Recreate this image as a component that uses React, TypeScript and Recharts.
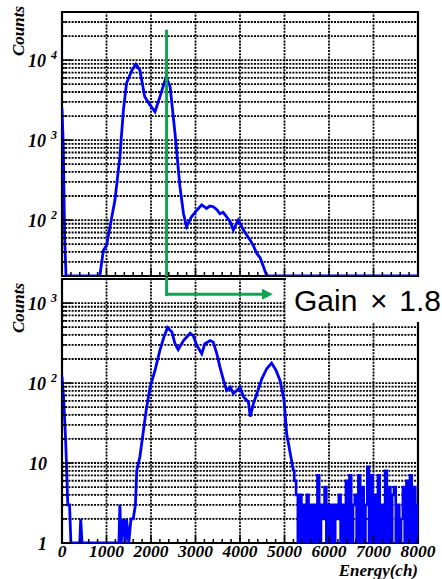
import React from 'react'
import {
  LineChart,
  Line,
  XAxis,
  YAxis,
  CartesianGrid,
  ReferenceLine,
  ReferenceArea,
} from 'recharts'

// upper panel: spectrum before the gain change
const topChannels = [
  0, 30, 60, 90, 820, 850, 930, 1000, 1080, 1190, 1300, 1380, 1450, 1570, 1660, 1750, 1860,
  1980, 2090, 2200, 2340, 2430, 2540, 2650, 2730, 2800, 2910, 3030, 3140, 3250, 3320, 3400,
  3480, 3550, 3620, 3700, 3780, 3850, 3960, 4080, 4150, 4230, 4300, 4380, 4450, 4530, 4600, 8000,
]
const topCounts = [
  2500, 800, 60, 0, 0, 20, 42, 48, 83, 178, 617, 2370, 5130, 7500, 8900, 7500, 3480,
  2740, 2260, 3480, 6180, 4640, 1210, 262, 121, 83, 110, 133, 155, 140, 150, 147,
  135, 120, 125, 110, 95, 75, 100, 75, 65, 56, 48, 38, 34, 26, 0, 0,
]

// lower panel: spectrum with gain x1.8
const bottomChannels = [
  0, 40, 80, 100, 130, 170, 200, 400, 420, 450, 1280, 1300, 1330, 1380, 1420, 1450, 1500,
  1550, 1600, 1650, 1680, 1750, 1810, 1890, 1980, 2090, 2200, 2290, 2370, 2470, 2540, 2610,
  2730, 2880, 2950, 3030, 3140, 3210, 3330, 3400, 3480, 3550, 3630, 3700, 3780, 3850, 3930,
  4000, 4080, 4190, 4230, 4300, 4380, 4490, 4600, 4710, 4810, 4900, 4990, 5050, 5120, 5200,
]
const bottomCounts = [
  120, 60, 20, 10, 3, 3, 0, 0, 2, 0, 0, 3, 0, 2, 0, 2, 1,
  2, 2, 3, 8, 12, 21, 45, 89, 144, 256, 376, 493, 434, 310, 262,
  340, 420, 390, 295, 232, 310, 340, 325, 232, 158, 108, 81, 89, 74, 81,
  89, 67, 58, 38, 55, 74, 113, 151, 178, 144, 108, 61, 23, 14, 8,
]

// noisy tail of the lower spectrum, one value per 40 ch bin from 5240 ch
const tailStart = 5240
const tailBin = 40
const tailCounts = [
  6, 4, 0, 4, 0, 3, 0, 4, 0, 3,
  0, 3, 0, 7, 0, 3, 2, 5, 0, 3,
  0, 3, 0, 3, 2, 4, 0, 3, 0, 6,
  0, 7, 0, 3, 4, 0, 7, 0, 5, 0,
  3, 9, 0, 7, 0, 4, 0, 7, 0, 3,
  0, 8, 0, 5, 0, 4, 5, 0, 3, 0,
  2, 5, 0, 6, 0, 7, 0, 5, 0, 3,
]

const xLabels = [0, 1000, 2000, 3000, 4000, 5000, 6000, 7000, 8000]
const xGrid = [1000, 2000, 3000, 4000, 5000, 6000, 7000]
const topDecades = [100, 1000, 10000]
const bottomDecades = [1, 10, 100, 1000]
const topRange: [number, number] = [20, 40000]
const bottomRange: [number, number] = [1, 2000]

// green marker: gain change position and arrow
const gainChannel = 2350
const lineTop = 24000
const arrowLevel = 1285
const arrowEnd = 4740
const gainLabel = 'Gain'
const gainTimes = '×'
const gainFactor = '1.8'

const SERIF = '"Liberation Serif", "Times New Roman", serif'
const SANS = '"Liberation Sans", Arial, sans-serif'
const BLUE = '#0000ff'
const GREEN = '#10a450'
const GRID_DASH = '2 1.2'
const GRID_W = 1.8

function logTicks([lo, hi]: [number, number]) {
  const out: number[] = []
  for (let d = 1; d <= hi; d *= 10) {
    for (let m = 1; m <= 9; m++) {
      const v = m * d
      if (v >= lo && v <= hi) out.push(v)
    }
  }
  return out
}

const xTicks = Array.from({ length: 41 }, (_, i) => i * 200)

const topData = topChannels.map((ch, i) => ({ ch, counts: Math.max(topCounts[i], topRange[0]) }))

// main part drawn as a polyline, the tail as histogram steps
const lastMain = bottomChannels.length - 1
const bottomData = [
  ...bottomChannels.map((ch, i) => {
    const c = Math.max(bottomCounts[i], bottomRange[0])
    return { ch, counts: c, tail: i === lastMain ? c : undefined }
  }),
  ...tailCounts.map((c, i) => ({
    ch: tailStart + i * tailBin,
    counts: undefined,
    tail: Math.max(c, bottomRange[0]),
  })),
]

const labelFont = {
  fontFamily: SERIF,
  fontWeight: 'bold' as const,
  fontStyle: 'italic' as const,
  fill: '#000',
}

const makeYTick = (decades: number[]) => (props: any) => {
  const { x, y, payload } = props
  const v = payload.value as number
  const major = decades.includes(v)
  const exp = Math.round(Math.log10(v))
  return (
    <g>
      <line x1={x} x2={x + (major ? 10 : 5)} y1={y} y2={y} stroke="#000" strokeWidth={1.5} />
      {major &&
        (exp < 2 ? (
          <text x={x - 15} y={y + 6.5} textAnchor="end" fontSize={18} {...labelFont}>
            {exp === 0 ? '1' : '10'}
          </text>
        ) : (
          <text x={x - 5} y={y + 6.5} textAnchor="end" fontSize={18} {...labelFont}>
            10
            <tspan dx={5} dy={-8} fontSize={12}>
              {exp}
            </tspan>
          </text>
        ))}
    </g>
  )
}

const makeXTick = (withLabels: boolean) => (props: any) => {
  const { x, y, payload } = props
  const v = payload.value as number
  const major = v % 1000 === 0
  return (
    <g>
      <line x1={x} x2={x} y1={y} y2={y - (major ? 7 : 4)} stroke="#000" strokeWidth={1.5} />
      {withLabels && xLabels.includes(v) && (
        <text x={x} y={y + 13.5} textAnchor="middle" fontSize={17.5} {...labelFont}>
          {v}
        </text>
      )}
    </g>
  )
}

const arrowShape = (p: any) => {
  const { x1, y1, x2, y2 } = p
  const head = 11
  return (
    <g>
      <line x1={x1} y1={y1} x2={x2 - head + 1} y2={y2} stroke={GREEN} strokeWidth={3} />
      <polygon points={`${x2},${y2} ${x2 - head},${y2 - 5.5} ${x2 - head},${y2 + 5.5}`} fill={GREEN} />
    </g>
  )
}

function gridLines() {
  return xGrid.map((g) => (
    <ReferenceLine key={g} x={g} stroke="#000" strokeWidth={GRID_W} strokeDasharray={GRID_DASH} />
  ))
}

export default function App() {
  const topTicks = logTicks(topRange)
  const bottomTicks = logTicks(bottomRange)
  return (
    <div style={{ position: 'absolute', left: 0, top: 0, width: 442, height: 579, background: '#fff' }}>
      <div style={{ position: 'absolute', left: 0, top: 0 }}>
        <LineChart width={442} height={280} data={topData} margin={{ top: 12, right: 24, bottom: 0, left: 0 }}>
          <CartesianGrid vertical={false} stroke="#000" strokeWidth={GRID_W} strokeDasharray={GRID_DASH} />
          {gridLines()}
          <XAxis
            type="number"
            dataKey="ch"
            domain={[0, 8000]}
            ticks={xTicks}
            interval={0}
            height={4}
            axisLine={false}
            tickLine={false}
            tickSize={0}
            tickMargin={0}
            tick={makeXTick(false)}
            allowDataOverflow
          />
          <YAxis
            scale="log"
            type="number"
            domain={topRange}
            ticks={topTicks}
            interval={0}
            width={62}
            axisLine={false}
            tickLine={false}
            tickSize={0}
            tickMargin={0}
            tick={makeYTick(topDecades)}
            allowDataOverflow
          />
          <Line type="linear" dataKey="counts" stroke={BLUE} strokeWidth={2.8} dot={false} isAnimationActive={false} />
          <ReferenceArea x1={0} x2={8000} y1={topRange[0]} y2={topRange[1]} fill="none" stroke="#000" strokeWidth={2.2} ifOverflow="visible" />
          <ReferenceLine
            segment={[{ x: gainChannel, y: lineTop }, { x: gainChannel, y: topRange[0] }]}
            stroke={GREEN}
            strokeWidth={3}
            ifOverflow="visible"
          />
        </LineChart>
      </div>
      <div style={{ position: 'absolute', left: 0, top: 277 }}>
        <LineChart width={442} height={302} data={bottomData} margin={{ top: 2, right: 24, bottom: 0, left: 0 }}>
          <CartesianGrid vertical={false} stroke="#000" strokeWidth={GRID_W} strokeDasharray={GRID_DASH} />
          {gridLines()}
          <XAxis
            type="number"
            dataKey="ch"
            domain={[0, 8000]}
            ticks={xTicks}
            interval={0}
            height={36}
            axisLine={false}
            tickLine={false}
            tickSize={0}
            tickMargin={0}
            tick={makeXTick(true)}
            allowDataOverflow
          />
          <YAxis
            scale="log"
            type="number"
            domain={bottomRange}
            ticks={bottomTicks}
            interval={0}
            width={62}
            axisLine={false}
            tickLine={false}
            tickSize={0}
            tickMargin={0}
            tick={makeYTick(bottomDecades)}
            allowDataOverflow
          />
          <Line type="linear" dataKey="counts" stroke={BLUE} strokeWidth={2.8} dot={false} isAnimationActive={false} />
          <Line type="step" dataKey="tail" stroke={BLUE} strokeWidth={2.6} dot={false} isAnimationActive={false} />
          <ReferenceArea x1={0} x2={8000} y1={bottomRange[0]} y2={bottomRange[1]} fill="none" stroke="#000" strokeWidth={2.2} ifOverflow="visible" />
          <ReferenceLine
            segment={[{ x: gainChannel, y: 2150 }, { x: gainChannel, y: arrowLevel }]}
            stroke={GREEN}
            strokeWidth={3}
            strokeLinecap="square"
            ifOverflow="visible"
          />
          <ReferenceLine
            segment={[{ x: gainChannel, y: arrowLevel }, { x: arrowEnd, y: arrowLevel }]}
            shape={arrowShape}
            ifOverflow="visible"
          />
        </LineChart>
      </div>
      <svg width={442} height={579} style={{ position: 'absolute', left: 0, top: 0, pointerEvents: 'none' }}>
        <rect x={286} y={278} width={156} height={44} fill="#fff" />
        <text x={294} y={311} fontFamily={SANS} fontSize={30} fill="#000">
          {gainLabel}
        </text>
        <text x={370} y={311} fontFamily={SANS} fontSize={30} fill="#000">
          {gainTimes}
        </text>
        <text x={441} y={311} textAnchor="end" fontFamily={SANS} fontSize={30} fill="#000">
          {gainFactor}
        </text>
        <text transform="translate(24,31) rotate(-90)" textAnchor="middle" fontSize={17} {...labelFont}>
          Counts
        </text>
        <text transform="translate(24,308) rotate(-90)" textAnchor="middle" fontSize={17} {...labelFont}>
          Counts
        </text>
        <text x={418} y={575.5} textAnchor="end" fontSize={17} {...labelFont}>
          Energy(ch)
        </text>
      </svg>
    </div>
  )
}
